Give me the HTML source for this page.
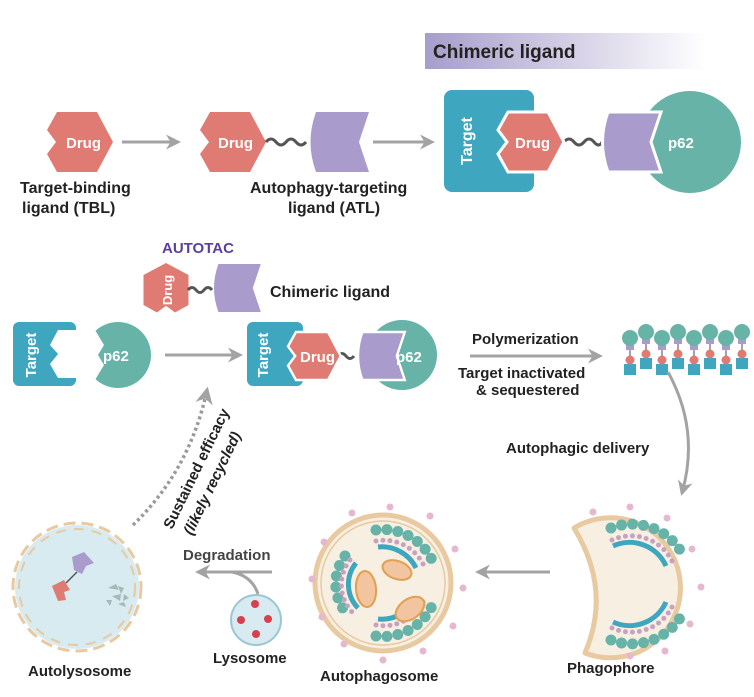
<!DOCTYPE html>
<html><head><meta charset="utf-8"><style>
html,body{margin:0;padding:0;background:#fff}
svg{display:block}
text{font-family:"Liberation Sans",Arial,sans-serif;font-weight:bold}
</style></head><body>
<svg width="754" height="697" viewBox="0 0 754 697" xmlns="http://www.w3.org/2000/svg">
<defs>
<linearGradient id="hg" x1="0" x2="1" y1="0" y2="0"><stop offset="0" stop-color="#a79dcb"/><stop offset="1" stop-color="#ffffff"/></linearGradient>
<marker id="ah" viewBox="0 0 10 10" refX="8" refY="5" markerWidth="5" markerHeight="5" orient="auto"><path d="M0,0 L10,5 L0,10 L3,5Z" fill="#a3a3a3"/></marker>
<path id="drug" d="M-20,-30 L20,-30 L36,0 L20,30 L-20,30 L-30,12 L-21,0 L-30,-12 Z"/>
<path id="purp" d="M-22,-30 L31,-30 L21,0 L31,30 L-22,30 Q-33,0 -22,-30 Z"/>
<g id="unit"><rect x="-6" y="22" width="12" height="11" fill="#3fa6c0"/><line x1="0" y1="6" x2="0" y2="20" stroke="#666" stroke-width="1.2"/><circle cx="0" cy="18" r="4.5" fill="#e07b73"/><rect x="-4" y="2" width="8" height="6" fill="#a99bcc"/><circle cx="0" cy="-4" r="8" fill="#67b3a8"/></g>
</defs>

<rect x="425" y="33" width="282" height="36" fill="url(#hg)"/>
<text x="433" y="58" font-size="19" fill="#222">Chimeric ligand</text>

<g fill="#e07b73" stroke-linejoin="round"><use href="#drug" x="77" y="142"/><use href="#drug" x="230" y="142"/></g>
<text x="66" y="148" font-size="15" fill="#fff">Drug</text>
<text x="218" y="148" font-size="15" fill="#fff">Drug</text>
<line x1="122" y1="142" x2="178" y2="142" stroke="#a3a3a3" stroke-width="3" marker-end="url(#ah)"/>
<path d="M266,142 q5,-6 10,0 t10,0 t10,0 t10,0" fill="none" stroke="#555" stroke-width="3"/>
<use href="#purp" x="338" y="142" fill="#a99bcc"/>
<line x1="373" y1="142" x2="432" y2="142" stroke="#a3a3a3" stroke-width="3" marker-end="url(#ah)"/>
<text x="20" y="193" font-size="16" fill="#222">Target-binding</text>
<text x="22" y="213" font-size="16" fill="#222">ligand (TBL)</text>
<text x="250" y="193" font-size="16" fill="#222">Autophagy-targeting</text>
<text x="288" y="213" font-size="16" fill="#222">ligand (ATL)</text>

<rect x="444" y="90" width="90" height="102" rx="8" fill="#3fa6c0"/>
<text transform="translate(472,141) rotate(-90)" text-anchor="middle" font-size="16" fill="#fff">Target</text>
<circle cx="690" cy="142" r="51" fill="#67b3a8"/>
<path d="M564,142 q5,-6 10,0 t10,0 t10,0 t8,0" fill="none" stroke="#555" stroke-width="3"/>
<use href="#drug" x="528" y="142" fill="#e07b73" stroke="#fff" stroke-width="3"/>
<text x="515" y="148" font-size="15" fill="#fff">Drug</text>
<use href="#purp" x="630" y="142" fill="#a99bcc" stroke="#fff" stroke-width="3"/>
<text x="668" y="148" font-size="15" fill="#fff">p62</text>

<text x="162" y="253" font-size="15" fill="#5b3fa0">AUTOTAC</text>
<g transform="translate(166,290) rotate(-90) scale(0.75)"><use href="#drug" fill="#e07b73"/></g>
<text transform="translate(172,290) rotate(-90)" text-anchor="middle" font-size="13" fill="#fff">Drug</text>
<path d="M188,290 q4,-5 8,0 t8,0 t8,0" fill="none" stroke="#555" stroke-width="3"/>
<g transform="translate(236,288) scale(0.8)"><use href="#purp" fill="#a99bcc"/></g>
<text x="270" y="297" font-size="16" fill="#222">Chimeric ligand</text>

<rect x="13" y="322" width="63" height="64" rx="6" fill="#3fa6c0"/>
<path d="M77,330 L58,330 L50,345 L58,354 L50,364 L58,378 L77,378Z" fill="#fff"/>
<text transform="translate(36,355) rotate(-90)" text-anchor="middle" font-size="15" fill="#fff">Target</text>
<circle cx="118" cy="355" r="33" fill="#67b3a8"/>
<path d="M80,330 L95,330 L104,345 L98,355 L104,365 L95,380 L80,380Z" fill="#fff"/>
<text x="103" y="361" font-size="15" fill="#fff">p62</text>
<line x1="165" y1="355" x2="240" y2="355" stroke="#a3a3a3" stroke-width="3" marker-end="url(#ah)"/>

<rect x="247" y="322" width="56" height="64" rx="6" fill="#3fa6c0"/>
<text transform="translate(268,355) rotate(-90)" text-anchor="middle" font-size="15" fill="#fff">Target</text>
<circle cx="402" cy="355" r="35" fill="#67b3a8"/>
<path d="M338,356 q4,-5 8,0 t8,0" fill="none" stroke="#555" stroke-width="3"/>
<g transform="translate(312,356) scale(0.8)"><use href="#drug" fill="#e07b73" stroke="#fff" stroke-width="3"/></g>
<text x="300" y="362" font-size="15" fill="#fff">Drug</text>
<g transform="translate(380,356) scale(0.8)"><use href="#purp" fill="#a99bcc" stroke="#fff" stroke-width="3"/></g>
<text x="396" y="362" font-size="15" fill="#fff">p62</text>

<text x="472" y="344" font-size="15" fill="#222">Polymerization</text>
<line x1="470" y1="356" x2="600" y2="356" stroke="#a3a3a3" stroke-width="3" marker-end="url(#ah)"/>
<text x="458" y="378" font-size="15" fill="#222">Target inactivated</text>
<text x="476" y="395" font-size="15" fill="#222">&amp; sequestered</text>

<use href="#unit" x="630" y="342"/><use href="#unit" x="646" y="336"/><use href="#unit" x="662" y="342"/><use href="#unit" x="678" y="336"/><use href="#unit" x="694" y="342"/><use href="#unit" x="710" y="336"/><use href="#unit" x="726" y="342"/><use href="#unit" x="742" y="336"/>

<path d="M668,372 Q700,430 682,493" fill="none" stroke="#a3a3a3" stroke-width="3" marker-end="url(#ah)"/>
<text x="506" y="453" font-size="15" fill="#222">Autophagic delivery</text>

<path d="M133,525 Q190,470 207,390" fill="none" stroke="#9a9a9a" stroke-width="3.5" stroke-dasharray="3,3" marker-end="url(#ah)"/>
<text transform="translate(172,530) rotate(-64)" font-size="15" fill="#222">Sustained efficacy</text>
<text transform="translate(192,536) rotate(-64)" font-size="15" fill="#222" font-style="italic">(likely recycled)</text>

<circle cx="77" cy="587" r="62" fill="#d7ebf1"/>
<circle cx="77" cy="587" r="64" fill="none" stroke="#e8c9a0" stroke-width="3" stroke-dasharray="12,6"/>
<circle cx="77" cy="587" r="58" fill="none" stroke="#e8c9a0" stroke-width="2" stroke-dasharray="10,8"/>
<path d="M72,557 L84,552 L94,563 L86,566 L82,574 L74,570Z" fill="#a99bcc"/>
<line x1="77" y1="572" x2="66" y2="583" stroke="#555" stroke-width="1.5"/>
<path d="M52,586 L64,580 L70,590 L64,592 L66,600 L58,601Z" fill="#e07b73"/>
<g fill="#a7b8b8"><path d="M108,588 l8,-4 l3,6z"/><path d="M118,586 l6,2 l-3,6z"/><path d="M112,596 l9,-2 l-1,7z"/><path d="M124,594 l5,4 l-6,3z"/><path d="M106,600 l6,0 l-2,6z"/><path d="M118,604 l6,-2 l2,5z"/></g>
<text x="28" y="676" font-size="15" fill="#222">Autolysosome</text>

<text x="183" y="560" font-size="15" fill="#444">Degradation</text>
<line x1="272" y1="572" x2="198" y2="572" stroke="#a3a3a3" stroke-width="3" marker-end="url(#ah)"/>
<path d="M258,594 Q252,576 232,572" fill="none" stroke="#a3a3a3" stroke-width="3"/>
<circle cx="256" cy="620" r="25" fill="#d7ebf1" stroke="#9cc5d5" stroke-width="2"/>
<g fill="#d8404f"><circle cx="255" cy="604" r="4"/><circle cx="241" cy="620" r="4"/><circle cx="268" cy="619" r="4"/><circle cx="256" cy="634" r="4"/></g>
<text x="213" y="663" font-size="15" fill="#222">Lysosome</text>

<circle cx="383" cy="583" r="68" fill="#f7f0e2" stroke="#e8c9a0" stroke-width="5"/>
<circle cx="383" cy="583" r="62" fill="none" stroke="#e8c9a0" stroke-width="1.5"/>
<g fill="#e5b8cf"><circle cx="390" cy="507" r="3.5"/><circle cx="352" cy="513" r="3.5"/><circle cx="430" cy="516" r="3.5"/><circle cx="324" cy="542" r="3.5"/><circle cx="455" cy="549" r="3.5"/><circle cx="312" cy="579" r="3.5"/><circle cx="463" cy="588" r="3.5"/><circle cx="322" cy="617" r="3.5"/><circle cx="453" cy="626" r="3.5"/><circle cx="344" cy="644" r="3.5"/><circle cx="423" cy="651" r="3.5"/><circle cx="383" cy="660" r="3.5"/></g>
<g fill="none" stroke-linecap="round">
<path d="M376,530 A54,54 0 0 1 432,560" stroke="#67b3a8" stroke-width="11" stroke-dasharray="0,11"/>
<path d="M376,541 A44,44 0 0 1 424,566" stroke="#c9a0c0" stroke-width="5" stroke-dasharray="0,7"/>
<path d="M378,547 A38,38 0 0 1 416,568" stroke="#3fa6c0" stroke-width="5" stroke-linecap="butt"/>
<path d="M345,556 A46,46 0 0 0 348,615" stroke="#67b3a8" stroke-width="11" stroke-dasharray="0,11"/>
<path d="M356,563 A34,34 0 0 0 358,608" stroke="#3fa6c0" stroke-width="5" stroke-linecap="butt"/>
<path d="M350,560 A40,40 0 0 0 352,612" stroke="#c9a0c0" stroke-width="5" stroke-dasharray="0,7"/>
<path d="M376,636 A54,54 0 0 0 432,606" stroke="#67b3a8" stroke-width="11" stroke-dasharray="0,11"/>
<path d="M376,625 A44,44 0 0 0 424,600" stroke="#c9a0c0" stroke-width="5" stroke-dasharray="0,7"/>
<path d="M378,619 A38,38 0 0 0 416,598" stroke="#3fa6c0" stroke-width="5" stroke-linecap="butt"/>
</g>
<g fill="#f2c4a0" stroke="#e0a050" stroke-width="2"><ellipse cx="366" cy="589" rx="10" ry="18" transform="rotate(-5 366 589)"/><ellipse cx="397" cy="570" rx="15" ry="9" transform="rotate(20 397 570)"/><ellipse cx="410" cy="609" rx="16" ry="10" transform="rotate(-35 410 609)"/></g>
<text x="320" y="681" font-size="15" fill="#222">Autophagosome</text>
<line x1="550" y1="572" x2="478" y2="572" stroke="#a3a3a3" stroke-width="3" marker-end="url(#ah)"/>

<path d="M574,528 A70,70 0 1 1 585,653 Q612,590 574,528Z" fill="#f7f0e2" stroke="#e8c9a0" stroke-width="5" stroke-linejoin="round"/>
<g fill="#e5b8cf"><circle cx="630" cy="507" r="3.5"/><circle cx="593" cy="512" r="3.5"/><circle cx="667" cy="518" r="3.5"/><circle cx="692" cy="549" r="3.5"/><circle cx="701" cy="587" r="3.5"/><circle cx="690" cy="624" r="3.5"/><circle cx="665" cy="651" r="3.5"/><circle cx="630" cy="656" r="3.5"/></g>
<g fill="none" stroke-linecap="round">
<path d="M611,528 A58,58 0 0 1 683,555" stroke="#67b3a8" stroke-width="11" stroke-dasharray="0,11"/>
<path d="M612,540 A46,46 0 0 1 672,561" stroke="#c9a0c0" stroke-width="5" stroke-dasharray="0,7"/>
<path d="M613,546 A40,40 0 0 1 666,566" stroke="#3fa6c0" stroke-width="5" stroke-linecap="butt"/>
<path d="M611,640 A58,58 0 0 0 683,613" stroke="#67b3a8" stroke-width="11" stroke-dasharray="0,11"/>
<path d="M612,628 A46,46 0 0 0 672,607" stroke="#c9a0c0" stroke-width="5" stroke-dasharray="0,7"/>
<path d="M613,622 A40,40 0 0 0 666,602" stroke="#3fa6c0" stroke-width="5" stroke-linecap="butt"/>
</g>
<text x="567" y="673" font-size="15" fill="#222">Phagophore</text>
</svg>
</body></html>
